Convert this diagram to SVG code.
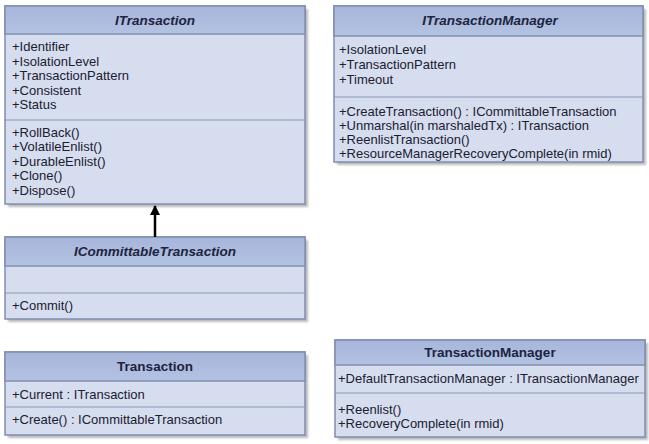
<svg xmlns="http://www.w3.org/2000/svg" width="649" height="444" viewBox="0 0 649 444">
<style>
.shadow{fill:#a8a8a8;opacity:0.8}
.body{fill:#d6ddef;stroke:#7f8fb0;stroke-width:1.5}
.head{fill:url(#hg);stroke:#7f8fb0;stroke-width:1.5}
.sep{stroke:#8a98b8;stroke-width:1.2}
.title{font-family:"Liberation Sans",Arial,sans-serif;font-size:13.5px;font-weight:bold;fill:#1c2440;text-anchor:middle}
.it{font-style:italic}
.m{font-family:"Liberation Sans",Arial,sans-serif;font-size:13px;fill:#1a2030}
</style>
<defs>
<linearGradient id="hg" x1="0" y1="0" x2="0" y2="1">
<stop offset="0" stop-color="#a6b5da"/>
<stop offset="1" stop-color="#b4c2e2"/>
</linearGradient>
<filter id="blur" x="-5%" y="-5%" width="110%" height="110%"><feGaussianBlur stdDeviation="1.2"/></filter>
<marker id="arr" viewBox="0 0 10 10" refX="9" refY="5" markerWidth="4" markerHeight="4" orient="auto">
<path d="M0,0 L10,5 L0,10 z" fill="#000"/>
</marker>
</defs>

<g id="ITransaction">
<rect class="shadow" x="8" y="9" width="300" height="198" filter="url(#blur)"/>
<rect class="body" x="5" y="6" width="300" height="198"/>
<rect class="head" x="5" y="6" width="300" height="28"/>
<line class="sep" x1="5" y1="120" x2="305" y2="120"/>
<text class="title it" x="155" y="25">ITransaction</text>
<text class="m" x="12" y="51">+Identifier</text>
<text class="m" x="12" y="66">+IsolationLevel</text>
<text class="m" x="12" y="80">+TransactionPattern</text>
<text class="m" x="12" y="95">+Consistent</text>
<text class="m" x="12" y="109">+Status</text>
<text class="m" x="12" y="137">+RollBack()</text>
<text class="m" x="12" y="151">+VolatileEnlist()</text>
<text class="m" x="12" y="166">+DurableEnlist()</text>
<text class="m" x="12" y="180">+Clone()</text>
<text class="m" x="12" y="195">+Dispose()</text>
</g>

<g id="ITransactionManager">
<rect class="shadow" x="337" y="9" width="309" height="156" filter="url(#blur)"/>
<rect class="body" x="334" y="6" width="309" height="156"/>
<rect class="head" x="334" y="6" width="309" height="30"/>
<line class="sep" x1="334" y1="97" x2="643" y2="97"/>
<text class="title it" x="490" y="25">ITransactionManager</text>
<text class="m" x="339" y="54">+IsolationLevel</text>
<text class="m" x="339" y="69">+TransactionPattern</text>
<text class="m" x="339" y="84">+Timeout</text>
<text class="m" x="339" y="116">+CreateTransaction() : ICommittableTransaction</text>
<text class="m" x="339" y="130">+Unmarshal(in marshaledTx) : ITransaction</text>
<text class="m" x="339" y="144">+ReenlistTransaction()</text>
<text class="m" x="339" y="158">+ResourceManagerRecoveryComplete(in rmid)</text>
</g>

<g id="ICommittableTransaction">
<rect class="shadow" x="8" y="240" width="300" height="82" filter="url(#blur)"/>
<rect class="body" x="5" y="237" width="300" height="82"/>
<rect class="head" x="5" y="237" width="300" height="29"/>
<line class="sep" x1="5" y1="293" x2="305" y2="293"/>
<text class="title it" x="155" y="256">ICommittableTransaction</text>
<text class="m" x="12" y="310">+Commit()</text>
</g>

<g id="Transaction">
<rect class="shadow" x="8" y="355" width="300" height="83" filter="url(#blur)"/>
<rect class="body" x="5" y="352" width="300" height="83"/>
<rect class="head" x="5" y="352" width="300" height="29"/>
<line class="sep" x1="5" y1="407" x2="305" y2="407"/>
<text class="title" x="155" y="371">Transaction</text>
<text class="m" x="12" y="399">+Current : ITransaction</text>
<text class="m" x="12" y="424">+Create() : ICommittableTransaction</text>
</g>

<g id="TransactionManager">
<rect class="shadow" x="338" y="343" width="310" height="97" filter="url(#blur)"/>
<rect class="body" x="335" y="340" width="310" height="97"/>
<rect class="head" x="335" y="340" width="310" height="25"/>
<line class="sep" x1="335" y1="393" x2="645" y2="393"/>
<text class="title" x="490" y="357">TransactionManager</text>
<text class="m" x="338" y="383">+DefaultTransactionManager : ITransactionManager</text>
<text class="m" x="338" y="414">+Reenlist()</text>
<text class="m" x="338" y="428">+RecoveryComplete(in rmid)</text>
</g>

<g id="connectors">
<line x1="155" y1="237" x2="155" y2="206" stroke="#000" stroke-width="2.5" marker-end="url(#arr)"/>
</g>
</svg>
